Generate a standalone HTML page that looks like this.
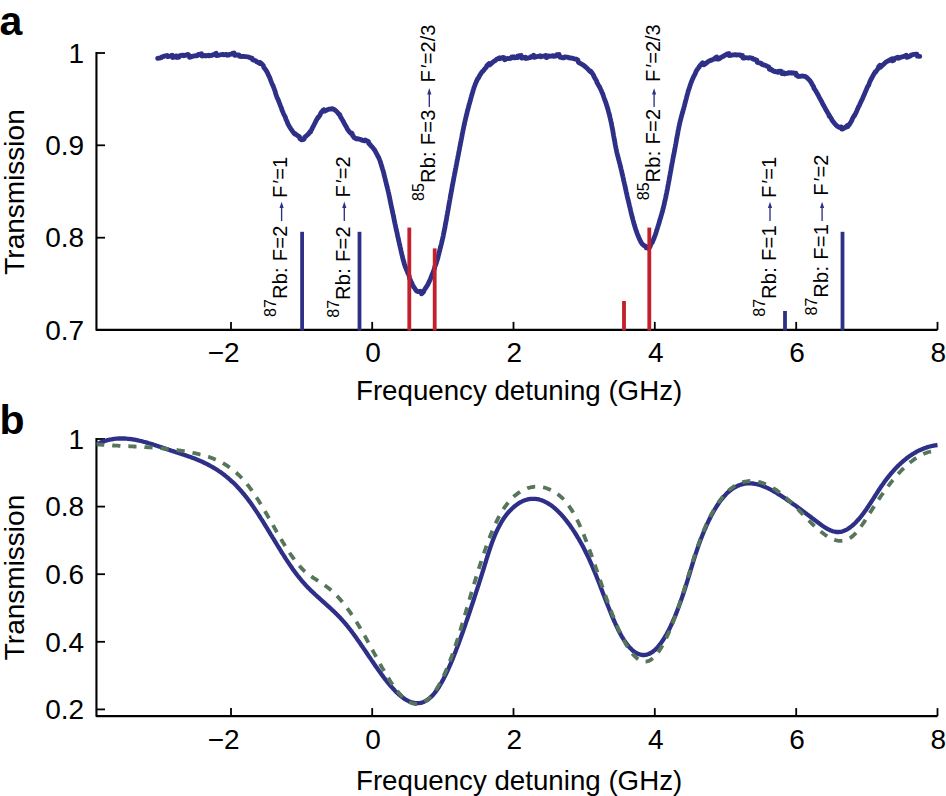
<!DOCTYPE html>
<html><head><meta charset="utf-8"><style>html,body{margin:0;padding:0;background:#fff;overflow:hidden;}svg{display:block;}</style></head>
<body>
<svg width="946" height="796" viewBox="0 0 946 796" font-family="'Liberation Sans', sans-serif" font-size="28" fill="#000">
<rect width="946" height="796" fill="#fff"/>
<path d="M96.45,52 L96.45,329.9 L937.5,329.9" fill="none" stroke="#000" stroke-width="2.1" stroke-linejoin="round"/>
<path d="M937.5,329.9 L937.5,321.9" fill="none" stroke="#000" stroke-width="1.8"/>
<path d="M231.0,329.9 L231.0,321.9" stroke="#000" stroke-width="1.8"/>
<path d="M372.2,329.9 L372.2,321.9" stroke="#000" stroke-width="1.8"/>
<path d="M513.5,329.9 L513.5,321.9" stroke="#000" stroke-width="1.8"/>
<path d="M654.8,329.9 L654.8,321.9" stroke="#000" stroke-width="1.8"/>
<path d="M796.2,329.9 L796.2,321.9" stroke="#000" stroke-width="1.8"/>
<path d="M96.45,53 L105,53" stroke="#000" stroke-width="1.8"/>
<path d="M96.45,145.3 L105,145.3" stroke="#000" stroke-width="1.8"/>
<path d="M96.45,237.7 L105,237.7" stroke="#000" stroke-width="1.8"/>
<text x="84.2" y="62.7" text-anchor="end">1</text>
<text x="84.2" y="155.0" text-anchor="end">0.9</text>
<text x="84.2" y="247.4" text-anchor="end">0.8</text>
<text x="239.7" y="362.4" text-anchor="end">−2</text>
<text x="373.1" y="362.4" text-anchor="middle">0</text>
<text x="514.4" y="362.4" text-anchor="middle">2</text>
<text x="655.7" y="362.4" text-anchor="middle">4</text>
<text x="797.1" y="362.4" text-anchor="middle">6</text>
<text x="938.4" y="362.4" text-anchor="middle">8</text>
<text x="519.1" y="399.9" text-anchor="middle" font-size="27.7">Frequency detuning (GHz)</text>
<text transform="translate(23.9,192) rotate(-90)" text-anchor="middle">Transmission</text>
<text x="-0.5" y="35.0" font-weight="bold" font-size="41">a</text>
<text x="84.2" y="339.6" text-anchor="end">0.7</text>
<path d="M157.7,58.4 L158.0,58.3 L158.4,58.2 L158.7,58.2 L159.1,58.1 L159.4,58.1 L159.7,58.0 L160.1,57.9 L160.4,57.9 L160.8,57.8 L161.1,57.7 L161.4,57.7 L161.8,56.9 L162.1,56.9 L162.5,56.8 L162.8,56.7 L163.1,56.7 L163.5,56.6 L163.8,56.1 L164.2,56.1 L164.5,56.0 L164.8,55.9 L165.2,55.9 L165.5,55.8 L165.9,55.8 L166.2,55.7 L166.5,55.6 L166.9,55.6 L167.2,55.5 L167.6,56.6 L167.9,56.6 L168.2,56.5 L168.6,56.4 L168.9,56.4 L169.3,56.3 L169.6,56.2 L169.9,56.2 L170.3,56.1 L170.6,56.1 L171.0,56.0 L171.3,55.4 L171.6,55.4 L172.0,55.3 L172.3,55.2 L172.7,57.5 L173.0,57.4 L173.3,57.4 L173.7,57.3 L174.0,57.2 L174.4,57.2 L174.7,56.2 L175.0,56.2 L175.4,56.1 L175.7,56.0 L176.1,56.0 L176.4,55.9 L176.7,55.9 L177.1,57.5 L177.4,57.4 L177.8,57.4 L178.1,57.3 L178.4,57.2 L178.8,57.2 L179.1,57.1 L179.5,55.7 L179.8,55.6 L180.1,55.6 L180.5,55.5 L180.8,55.5 L181.2,55.4 L181.5,55.3 L181.8,55.3 L182.2,55.2 L182.5,55.2 L182.9,55.1 L183.2,55.1 L183.5,55.7 L183.9,55.6 L184.2,55.6 L184.6,55.5 L184.9,55.5 L185.2,55.4 L185.6,55.3 L185.9,54.8 L186.3,54.8 L186.6,54.7 L186.9,54.7 L187.3,54.6 L187.6,54.5 L188.0,54.5 L188.3,55.2 L188.6,55.1 L189.0,55.1 L189.3,57.3 L189.7,57.2 L190.0,57.2 L190.3,57.1 L190.7,57.0 L191.0,57.0 L191.4,56.9 L191.7,56.5 L192.0,56.4 L192.4,56.4 L192.7,56.3 L193.1,56.2 L193.4,56.1 L193.7,56.1 L194.1,56.0 L194.4,55.9 L194.8,55.8 L195.1,55.8 L195.4,55.7 L195.8,55.6 L196.1,55.9 L196.5,55.8 L196.8,55.8 L197.1,55.7 L197.5,55.6 L197.8,55.5 L198.2,54.5 L198.5,54.4 L198.8,54.4 L199.2,54.3 L199.5,54.2 L199.9,54.2 L200.2,54.1 L200.5,54.0 L200.9,53.9 L201.2,53.9 L201.6,53.8 L201.9,56.0 L202.2,55.9 L202.6,55.9 L202.9,55.8 L203.3,55.7 L203.6,55.7 L203.9,55.6 L204.3,55.6 L204.6,55.5 L205.0,55.4 L205.3,55.4 L205.6,55.9 L206.0,55.8 L206.3,55.8 L206.7,55.7 L207.0,55.6 L207.3,55.6 L207.7,55.5 L208.0,55.4 L208.4,55.4 L208.7,55.3 L209.0,55.9 L209.4,55.8 L209.7,55.7 L210.1,55.7 L210.4,55.6 L210.7,55.6 L211.1,55.5 L211.4,55.4 L211.8,55.4 L212.1,55.3 L212.4,55.2 L212.8,54.8 L213.1,54.7 L213.5,54.6 L213.8,54.6 L214.1,54.5 L214.5,54.4 L214.8,54.4 L215.2,54.3 L215.5,53.5 L215.8,53.4 L216.2,53.3 L216.5,55.6 L216.9,55.5 L217.2,55.5 L217.5,55.4 L217.9,55.4 L218.2,55.3 L218.6,55.3 L218.9,55.2 L219.2,55.2 L219.6,55.1 L219.9,54.8 L220.3,54.8 L220.6,54.7 L220.9,54.7 L221.3,54.6 L221.6,54.6 L222.0,54.5 L222.3,54.5 L222.6,54.4 L223.0,54.3 L223.3,54.3 L223.7,54.9 L224.0,54.8 L224.3,54.7 L224.7,54.7 L225.0,54.6 L225.4,54.6 L225.7,54.5 L226.0,54.5 L226.4,54.4 L226.7,54.4 L227.1,55.3 L227.4,55.2 L227.7,55.2 L228.1,55.1 L228.4,55.1 L228.8,55.0 L229.1,55.0 L229.4,54.4 L229.8,54.4 L230.1,54.3 L230.5,54.3 L230.8,54.3 L231.1,54.2 L231.5,54.2 L231.8,54.1 L232.2,54.1 L232.5,53.2 L232.8,53.2 L233.2,53.1 L233.5,53.1 L233.9,53.1 L234.2,53.0 L234.5,55.3 L234.9,55.3 L235.2,55.3 L235.6,55.2 L235.9,54.9 L236.2,54.9 L236.6,54.9 L236.9,54.9 L237.3,54.9 L237.6,54.9 L237.9,54.8 L238.3,54.8 L238.6,54.8 L239.0,54.8 L239.3,56.4 L239.6,56.4 L240.0,56.4 L240.3,56.4 L240.7,56.4 L241.0,56.5 L241.3,56.5 L241.7,56.5 L242.0,56.5 L242.4,56.3 L242.7,56.4 L243.0,56.4 L243.4,56.4 L243.7,56.4 L244.1,56.5 L244.4,56.5 L244.7,56.5 L245.1,56.6 L245.4,56.6 L245.8,56.6 L246.1,56.6 L246.4,56.7 L246.8,56.7 L247.1,56.8 L247.5,56.8 L247.8,56.9 L248.1,57.0 L248.5,57.0 L248.8,57.1 L249.2,57.4 L249.5,57.5 L249.8,57.6 L250.2,57.7 L250.5,57.8 L250.9,57.9 L251.2,58.0 L251.5,58.1 L251.9,58.2 L252.2,58.3 L252.6,59.8 L252.9,59.9 L253.2,60.0 L253.6,60.1 L253.9,60.2 L254.3,60.3 L254.6,60.4 L254.9,60.5 L255.3,60.6 L255.6,60.8 L256.0,60.9 L256.3,61.6 L256.6,61.7 L257.0,61.9 L257.3,62.0 L257.7,62.2 L258.0,62.4 L258.3,62.6 L258.7,62.8 L259.0,63.0 L259.4,63.2 L259.7,63.4 L260.0,62.4 L260.4,62.7 L260.7,62.9 L261.1,63.2 L261.4,63.5 L261.7,63.9 L262.1,64.2 L262.4,64.6 L262.8,64.9 L263.1,65.3 L263.4,65.7 L263.8,67.4 L264.1,67.8 L264.5,68.2 L264.8,68.7 L265.1,69.1 L265.5,69.6 L265.8,70.1 L266.2,70.6 L266.5,71.2 L266.8,71.8 L267.2,72.3 L267.5,72.9 L267.9,73.9 L268.2,74.5 L268.5,75.2 L268.9,75.9 L269.2,76.6 L269.6,77.3 L269.9,78.1 L270.2,78.9 L270.6,80.1 L270.9,80.9 L271.3,81.7 L271.6,82.6 L271.9,83.4 L272.3,84.3 L272.6,85.1 L273.0,85.6 L273.3,86.5 L273.6,87.4 L274.0,88.3 L274.3,89.2 L274.7,90.1 L275.0,91.0 L275.3,92.0 L275.7,93.7 L276.0,94.6 L276.4,95.5 L276.7,96.5 L277.0,97.4 L277.4,98.3 L277.7,98.6 L278.1,99.5 L278.4,100.4 L278.7,101.3 L279.1,102.2 L279.4,103.1 L279.8,103.9 L280.1,104.8 L280.4,105.7 L280.8,106.5 L281.1,107.4 L281.5,108.2 L281.8,109.6 L282.1,110.4 L282.5,111.2 L282.8,112.0 L283.2,112.8 L283.5,113.6 L283.8,114.3 L284.2,114.9 L284.5,115.6 L284.9,116.3 L285.2,117.0 L285.5,117.7 L285.9,119.2 L286.2,119.9 L286.6,120.5 L286.9,121.2 L287.2,121.9 L287.6,123.2 L287.9,123.9 L288.3,124.5 L288.6,125.1 L288.9,125.7 L289.3,126.3 L289.6,126.9 L290.0,127.4 L290.3,128.0 L290.6,128.5 L291.0,129.1 L291.3,129.6 L291.7,130.1 L292.0,130.6 L292.3,131.1 L292.7,131.5 L293.0,132.0 L293.4,132.4 L293.7,132.8 L294.0,133.2 L294.4,133.6 L294.7,134.0 L295.1,133.5 L295.4,133.9 L295.7,134.2 L296.1,134.5 L296.4,134.8 L296.8,135.0 L297.1,135.3 L297.4,135.5 L297.8,135.8 L298.1,135.9 L298.5,136.1 L298.8,136.3 L299.1,136.4 L299.5,136.5 L299.8,138.7 L300.2,138.8 L300.5,138.9 L300.8,138.9 L301.2,139.0 L301.5,139.8 L301.9,139.8 L302.2,139.8 L302.5,139.7 L302.9,139.6 L303.2,139.5 L303.6,139.3 L303.9,139.2 L304.2,139.0 L304.6,137.3 L304.9,137.1 L305.3,136.8 L305.6,136.5 L305.9,136.3 L306.3,136.0 L306.6,135.6 L307.0,135.3 L307.3,134.9 L307.6,134.5 L308.0,134.1 L308.3,134.2 L308.7,133.8 L309.0,133.3 L309.3,132.8 L309.7,132.2 L310.0,131.7 L310.4,132.2 L310.7,131.6 L311.0,130.6 L311.4,130.0 L311.7,129.3 L312.1,128.7 L312.4,128.0 L312.7,127.4 L313.1,126.7 L313.4,126.1 L313.8,125.4 L314.1,124.7 L314.4,124.1 L314.8,123.4 L315.1,122.7 L315.5,122.0 L315.8,121.3 L316.1,120.7 L316.5,120.0 L316.8,119.4 L317.2,118.8 L317.5,118.1 L317.8,117.5 L318.2,117.9 L318.5,117.3 L318.9,116.8 L319.2,116.2 L319.5,115.7 L319.9,115.2 L320.2,114.7 L320.6,113.5 L320.9,113.0 L321.2,112.5 L321.6,112.1 L321.9,111.6 L322.3,111.2 L322.6,110.8 L322.9,110.4 L323.3,110.0 L323.6,110.1 L324.0,109.8 L324.3,111.2 L324.6,110.9 L325.0,110.7 L325.3,110.4 L325.7,110.7 L326.0,110.5 L326.3,110.3 L326.7,110.1 L327.0,109.9 L327.4,109.8 L327.7,109.6 L328.0,109.5 L328.4,109.4 L328.7,109.3 L329.1,109.2 L329.4,109.1 L329.7,109.1 L330.1,109.0 L330.4,109.0 L330.8,109.0 L331.1,109.0 L331.4,109.1 L331.8,109.1 L332.1,108.7 L332.5,108.8 L332.8,108.9 L333.1,109.0 L333.5,109.1 L333.8,109.3 L334.2,109.5 L334.5,109.7 L334.8,109.9 L335.2,110.2 L335.5,110.5 L335.9,110.8 L336.2,111.1 L336.5,111.4 L336.9,111.8 L337.2,112.1 L337.6,112.5 L337.9,112.9 L338.2,113.4 L338.6,113.8 L338.9,114.3 L339.3,114.8 L339.6,114.4 L339.9,114.9 L340.3,116.5 L340.6,117.1 L341.0,117.6 L341.3,118.1 L341.6,118.7 L342.0,119.3 L342.3,119.8 L342.7,120.4 L343.0,121.0 L343.3,121.6 L343.7,122.1 L344.0,123.1 L344.4,123.6 L344.7,124.2 L345.0,124.8 L345.4,125.4 L345.7,125.9 L346.1,126.5 L346.4,127.0 L346.7,127.6 L347.1,128.6 L347.4,129.2 L347.8,129.7 L348.1,130.1 L348.4,130.6 L348.8,131.0 L349.1,131.5 L349.5,131.9 L349.8,132.3 L350.1,132.6 L350.5,133.0 L350.8,133.3 L351.2,132.8 L351.5,133.0 L351.8,133.3 L352.2,133.5 L352.5,135.5 L352.9,135.8 L353.2,136.0 L353.5,136.3 L353.9,137.5 L354.2,137.7 L354.6,137.9 L354.9,138.1 L355.2,138.3 L355.6,138.4 L355.9,138.6 L356.3,138.7 L356.6,138.9 L356.9,139.0 L357.3,138.6 L357.6,138.7 L358.0,138.8 L358.3,138.9 L358.6,139.0 L359.0,139.1 L359.3,139.2 L359.7,139.3 L360.0,139.3 L360.3,139.4 L360.7,139.5 L361.0,139.6 L361.4,139.6 L361.7,140.1 L362.0,140.2 L362.4,140.3 L362.7,140.4 L363.1,140.5 L363.4,140.6 L363.7,140.6 L364.1,140.7 L364.4,140.8 L364.8,140.9 L365.1,140.0 L365.4,140.2 L365.8,140.3 L366.1,140.4 L366.5,140.6 L366.8,140.7 L367.1,140.9 L367.5,141.1 L367.8,141.3 L368.2,141.5 L368.5,141.6 L368.8,143.6 L369.2,143.8 L369.5,144.1 L369.9,144.3 L370.2,144.5 L370.5,145.5 L370.9,145.7 L371.2,146.0 L371.6,146.4 L371.9,146.7 L372.2,147.0 L372.6,147.4 L372.9,147.8 L373.3,148.3 L373.6,148.7 L373.9,149.2 L374.3,149.6 L374.6,150.1 L375.0,150.6 L375.3,151.2 L375.6,152.0 L376.0,152.5 L376.3,153.1 L376.7,153.8 L377.0,154.4 L377.3,155.1 L377.7,155.8 L378.0,156.5 L378.4,156.8 L378.7,157.6 L379.0,158.4 L379.4,159.2 L379.7,160.1 L380.1,161.0 L380.4,162.0 L380.7,163.0 L381.1,164.4 L381.4,165.4 L381.8,166.5 L382.1,167.6 L382.4,168.7 L382.8,169.8 L383.1,171.0 L383.5,172.2 L383.8,173.5 L384.1,175.0 L384.5,176.3 L384.8,177.6 L385.2,179.0 L385.5,180.4 L385.8,181.7 L386.2,183.1 L386.5,184.6 L386.9,186.0 L387.2,187.0 L387.5,188.5 L387.9,190.0 L388.2,191.5 L388.6,193.0 L388.9,194.5 L389.2,196.1 L389.6,197.6 L389.9,199.2 L390.3,201.3 L390.6,202.8 L390.9,204.4 L391.3,206.0 L391.6,207.6 L392.0,209.2 L392.3,210.8 L392.6,212.4 L393.0,214.0 L393.3,215.6 L393.7,217.2 L394.0,218.8 L394.3,220.7 L394.7,222.2 L395.0,223.8 L395.4,225.4 L395.7,227.0 L396.0,228.6 L396.4,230.2 L396.7,231.5 L397.1,233.1 L397.4,234.7 L397.7,236.3 L398.1,237.8 L398.4,239.4 L398.8,240.9 L399.1,242.5 L399.4,243.7 L399.8,245.3 L400.1,246.8 L400.5,248.3 L400.8,249.8 L401.1,251.3 L401.5,252.7 L401.8,254.3 L402.2,255.7 L402.5,257.1 L402.8,258.5 L403.2,259.8 L403.5,261.0 L403.9,262.2 L404.2,263.4 L404.5,264.5 L404.9,265.6 L405.2,266.6 L405.6,267.6 L405.9,268.2 L406.2,269.1 L406.6,270.0 L406.9,270.8 L407.3,271.6 L407.6,272.4 L407.9,273.2 L408.3,273.9 L408.6,274.6 L409.0,275.4 L409.3,276.8 L409.6,278.5 L410.0,279.2 L410.3,279.9 L410.7,280.6 L411.0,281.4 L411.3,282.1 L411.7,282.8 L412.0,283.6 L412.4,284.3 L412.7,285.1 L413.0,285.8 L413.4,286.5 L413.7,287.2 L414.1,287.2 L414.4,287.8 L414.7,288.4 L415.1,289.0 L415.4,289.5 L415.8,290.0 L416.1,290.4 L416.4,290.8 L416.8,291.1 L417.1,291.2 L417.5,291.4 L417.8,291.5 L418.1,291.6 L418.5,291.6 L418.8,291.6 L419.2,291.6 L419.5,291.5 L419.8,291.4 L420.2,291.3 L420.5,292.2 L420.9,292.1 L421.2,291.9 L421.5,293.8 L421.9,293.5 L422.2,293.2 L422.6,292.9 L422.9,292.6 L423.2,292.2 L423.6,291.8 L423.9,290.4 L424.3,290.0 L424.6,289.6 L424.9,289.1 L425.3,288.6 L425.6,288.1 L426.0,287.6 L426.3,287.1 L426.6,286.5 L427.0,285.9 L427.3,285.5 L427.7,284.9 L428.0,284.2 L428.3,283.5 L428.7,282.8 L429.0,282.1 L429.4,281.3 L429.7,280.5 L430.0,280.0 L430.4,279.1 L430.7,278.2 L431.1,277.3 L431.4,276.4 L431.7,275.5 L432.1,274.6 L432.4,273.6 L432.8,273.2 L433.1,272.2 L433.4,271.3 L433.8,270.4 L434.1,269.4 L434.5,268.5 L434.8,266.8 L435.1,265.9 L435.5,265.4 L435.8,264.4 L436.2,263.4 L436.5,262.3 L436.8,261.2 L437.2,260.0 L437.5,259.0 L437.9,257.7 L438.2,256.4 L438.5,255.0 L438.9,253.7 L439.2,252.3 L439.6,251.0 L439.9,249.6 L440.2,248.4 L440.6,247.0 L440.9,245.7 L441.3,244.3 L441.6,242.9 L441.9,241.5 L442.3,240.1 L442.6,238.6 L443.0,237.1 L443.3,235.6 L443.6,233.8 L444.0,232.1 L444.3,230.5 L444.7,228.8 L445.0,227.0 L445.3,225.2 L445.7,223.3 L446.0,221.4 L446.4,219.5 L446.7,217.6 L447.0,215.7 L447.4,213.7 L447.7,211.8 L448.1,209.9 L448.4,207.9 L448.7,206.0 L449.1,204.0 L449.4,202.1 L449.8,200.1 L450.1,198.4 L450.4,196.5 L450.8,194.6 L451.1,192.7 L451.5,190.8 L451.8,189.0 L452.1,187.1 L452.5,185.3 L452.8,183.4 L453.2,181.6 L453.5,179.8 L453.8,178.0 L454.2,176.2 L454.5,174.4 L454.9,172.6 L455.2,171.0 L455.5,169.2 L455.9,167.4 L456.2,165.7 L456.6,163.9 L456.9,162.2 L457.2,160.4 L457.6,158.7 L457.9,156.9 L458.3,155.2 L458.6,153.4 L458.9,151.7 L459.3,149.9 L459.6,148.0 L460.0,146.3 L460.3,144.5 L460.6,142.8 L461.0,141.0 L461.3,139.3 L461.7,137.5 L462.0,135.8 L462.3,133.9 L462.7,132.2 L463.0,130.5 L463.4,128.8 L463.7,127.1 L464.0,125.7 L464.4,124.1 L464.7,122.5 L465.1,120.9 L465.4,119.6 L465.7,118.1 L466.1,116.7 L466.4,115.3 L466.8,113.9 L467.1,112.5 L467.4,111.1 L467.8,109.8 L468.1,108.5 L468.5,107.2 L468.8,105.9 L469.1,104.6 L469.5,103.4 L469.8,102.1 L470.2,101.0 L470.5,99.7 L470.8,98.5 L471.2,97.2 L471.5,96.0 L471.9,94.8 L472.2,93.7 L472.5,92.6 L472.9,91.5 L473.2,90.1 L473.6,89.0 L473.9,88.0 L474.2,87.0 L474.6,86.1 L474.9,85.2 L475.3,84.3 L475.6,83.4 L475.9,82.7 L476.3,81.8 L476.6,81.0 L477.0,80.3 L477.3,79.5 L477.6,78.8 L478.0,78.9 L478.3,78.2 L478.7,77.6 L479.0,76.9 L479.3,76.2 L479.7,75.6 L480.0,75.0 L480.4,74.4 L480.7,73.9 L481.0,73.4 L481.4,72.8 L481.7,72.3 L482.1,71.8 L482.4,71.4 L482.7,71.5 L483.1,71.1 L483.4,70.6 L483.8,70.2 L484.1,69.7 L484.4,69.3 L484.8,68.9 L485.1,68.5 L485.5,68.1 L485.8,67.7 L486.1,67.4 L486.5,67.0 L486.8,65.8 L487.2,65.4 L487.5,65.1 L487.8,64.7 L488.2,64.4 L488.5,64.0 L488.9,63.9 L489.2,63.5 L489.5,65.0 L489.9,64.8 L490.2,64.5 L490.6,64.2 L490.9,63.9 L491.2,63.7 L491.6,63.4 L491.9,63.1 L492.3,62.5 L492.6,62.3 L492.9,62.1 L493.3,61.8 L493.6,61.6 L494.0,61.4 L494.3,61.1 L494.6,60.9 L495.0,60.7 L495.3,60.5 L495.7,60.3 L496.0,59.7 L496.3,59.5 L496.7,59.3 L497.0,59.1 L497.4,59.0 L497.7,58.8 L498.0,58.6 L498.4,58.4 L498.7,58.3 L499.1,58.1 L499.4,57.9 L499.7,58.7 L500.1,58.6 L500.4,58.5 L500.8,58.3 L501.1,58.2 L501.4,58.0 L501.8,57.9 L502.1,57.8 L502.5,57.7 L502.8,57.5 L503.1,57.4 L503.5,57.8 L503.8,57.7 L504.2,57.6 L504.5,59.8 L504.8,59.7 L505.2,59.6 L505.5,58.9 L505.9,58.8 L506.2,58.8 L506.5,58.7 L506.9,58.6 L507.2,58.5 L507.6,58.5 L507.9,58.4 L508.2,58.7 L508.6,58.7 L508.9,58.6 L509.3,58.5 L509.6,58.5 L509.9,58.4 L510.3,58.4 L510.6,58.3 L511.0,58.3 L511.3,58.2 L511.6,57.0 L512.0,57.0 L512.3,56.9 L512.7,56.9 L513.0,56.8 L513.3,56.8 L513.7,56.8 L514.0,56.7 L514.4,57.9 L514.7,57.9 L515.0,57.8 L515.4,57.8 L515.7,57.7 L516.1,57.7 L516.4,57.7 L516.7,57.6 L517.1,57.6 L517.4,57.6 L517.8,55.9 L518.1,55.9 L518.4,55.8 L518.8,55.8 L519.1,55.7 L519.5,55.7 L519.8,55.7 L520.1,55.6 L520.5,55.6 L520.8,55.5 L521.2,55.5 L521.5,58.1 L521.8,58.1 L522.2,58.0 L522.5,57.9 L522.9,57.9 L523.2,57.8 L523.5,57.8 L523.9,57.5 L524.2,57.4 L524.6,57.4 L524.9,57.3 L525.2,57.2 L525.6,57.2 L525.9,58.5 L526.3,58.4 L526.6,58.3 L526.9,58.3 L527.3,58.2 L527.6,58.1 L528.0,58.0 L528.3,58.0 L528.6,57.9 L529.0,57.8 L529.3,57.7 L529.7,57.6 L530.0,57.6 L530.3,57.5 L530.7,57.4 L531.0,56.7 L531.4,56.6 L531.7,56.6 L532.0,56.5 L532.4,56.4 L532.7,56.3 L533.1,56.2 L533.4,55.3 L533.7,55.2 L534.1,57.4 L534.4,57.3 L534.8,57.2 L535.1,57.1 L535.4,57.0 L535.8,56.9 L536.1,56.8 L536.5,56.7 L536.8,56.7 L537.1,56.6 L537.5,56.5 L537.8,56.4 L538.2,56.3 L538.5,56.3 L538.8,56.2 L539.2,56.1 L539.5,56.0 L539.9,55.9 L540.2,55.8 L540.5,56.9 L540.9,56.8 L541.2,56.7 L541.6,56.6 L541.9,56.5 L542.2,56.5 L542.6,56.4 L542.9,56.3 L543.3,56.1 L543.6,56.0 L543.9,56.0 L544.3,55.9 L544.6,55.8 L545.0,55.7 L545.3,55.6 L545.6,55.5 L546.0,55.4 L546.3,57.7 L546.7,57.6 L547.0,56.4 L547.3,56.3 L547.7,56.2 L548.0,56.1 L548.4,56.1 L548.7,56.0 L549.0,55.9 L549.4,56.4 L549.7,56.3 L550.1,56.2 L550.4,56.2 L550.7,56.1 L551.1,56.0 L551.4,56.0 L551.8,55.9 L552.1,55.8 L552.4,55.8 L552.8,55.7 L553.1,56.4 L553.5,56.4 L553.8,56.3 L554.1,56.3 L554.5,56.2 L554.8,56.2 L555.2,56.1 L555.5,56.1 L555.8,56.0 L556.2,56.0 L556.5,54.8 L556.9,54.7 L557.2,54.7 L557.5,54.6 L557.9,54.6 L558.2,54.6 L558.6,54.5 L558.9,54.5 L559.2,54.5 L559.6,56.7 L559.9,57.4 L560.3,57.4 L560.6,57.4 L560.9,57.4 L561.3,57.4 L561.6,57.4 L562.0,57.4 L562.3,57.8 L562.6,57.8 L563.0,57.8 L563.3,57.8 L563.7,57.8 L564.0,57.8 L564.3,57.8 L564.7,57.0 L565.0,57.0 L565.4,57.0 L565.7,57.0 L566.0,57.0 L566.4,57.1 L566.7,57.1 L567.1,57.1 L567.4,57.1 L567.7,57.2 L568.1,57.2 L568.4,57.8 L568.8,57.8 L569.1,57.8 L569.4,57.9 L569.8,57.9 L570.1,58.0 L570.5,57.9 L570.8,57.9 L571.1,58.0 L571.5,58.0 L571.8,58.1 L572.2,58.2 L572.5,58.2 L572.8,58.3 L573.2,58.5 L573.5,58.6 L573.9,58.7 L574.2,58.8 L574.5,58.9 L574.9,59.0 L575.2,59.1 L575.6,59.2 L575.9,59.3 L576.2,59.2 L576.6,59.3 L576.9,59.4 L577.3,59.6 L577.6,59.7 L577.9,59.9 L578.3,62.0 L578.6,62.2 L579.0,62.8 L579.3,62.9 L579.6,63.1 L580.0,63.2 L580.3,63.4 L580.7,63.6 L581.0,63.8 L581.3,64.0 L581.7,64.1 L582.0,64.4 L582.4,64.6 L582.7,64.8 L583.0,65.0 L583.4,65.3 L583.7,65.5 L584.1,65.7 L584.4,66.0 L584.7,66.3 L585.1,66.5 L585.4,66.8 L585.8,67.1 L586.1,67.4 L586.4,67.7 L586.8,68.0 L587.1,68.4 L587.5,68.7 L587.8,69.0 L588.1,69.4 L588.5,69.7 L588.8,70.1 L589.2,70.5 L589.5,70.8 L589.8,71.2 L590.2,71.6 L590.5,70.9 L590.9,71.4 L591.2,71.8 L591.5,72.3 L591.9,72.7 L592.2,73.2 L592.6,73.7 L592.9,74.2 L593.2,74.7 L593.6,75.2 L593.9,76.6 L594.3,77.1 L594.6,77.7 L594.9,78.2 L595.3,78.8 L595.6,79.3 L596.0,79.9 L596.3,80.5 L596.6,81.1 L597.0,82.7 L597.3,83.0 L597.7,83.6 L598.0,84.3 L598.3,84.9 L598.7,85.6 L599.0,86.2 L599.4,86.5 L599.7,87.2 L600.0,87.9 L600.4,88.6 L600.7,89.4 L601.1,90.1 L601.4,90.9 L601.7,91.7 L602.1,92.5 L602.4,93.3 L602.8,94.1 L603.1,95.0 L603.4,95.8 L603.8,97.2 L604.1,98.1 L604.5,99.0 L604.8,99.9 L605.1,100.8 L605.5,101.7 L605.8,102.7 L606.2,103.7 L606.5,104.7 L606.8,105.7 L607.2,107.0 L607.5,108.1 L607.9,109.2 L608.2,110.4 L608.5,111.6 L608.9,112.9 L609.2,114.2 L609.6,115.5 L609.9,116.9 L610.2,118.3 L610.6,119.8 L610.9,121.3 L611.3,122.9 L611.6,124.5 L611.9,126.2 L612.3,128.0 L612.6,129.8 L613.0,131.8 L613.3,133.8 L613.6,135.7 L614.0,137.6 L614.3,139.6 L614.7,141.3 L615.0,143.2 L615.3,145.0 L615.7,146.8 L616.0,148.5 L616.4,150.1 L616.7,151.7 L617.0,153.1 L617.4,154.5 L617.7,155.9 L618.1,157.2 L618.4,158.5 L618.7,159.7 L619.1,161.0 L619.4,162.3 L619.8,163.7 L620.1,165.0 L620.4,166.4 L620.8,167.8 L621.1,169.3 L621.5,170.7 L621.8,172.1 L622.1,173.6 L622.5,175.0 L622.8,176.5 L623.2,178.0 L623.5,179.5 L623.8,181.0 L624.2,182.5 L624.5,184.0 L624.9,185.5 L625.2,187.0 L625.5,188.5 L625.9,190.3 L626.2,191.8 L626.6,193.3 L626.9,194.8 L627.2,196.3 L627.6,197.8 L627.9,199.2 L628.3,200.5 L628.6,202.0 L628.9,203.4 L629.3,204.9 L629.6,206.3 L630.0,207.7 L630.3,209.1 L630.6,210.5 L631.0,212.1 L631.3,213.6 L631.7,214.9 L632.0,216.2 L632.3,217.6 L632.7,218.8 L633.0,220.1 L633.4,221.4 L633.7,222.6 L634.0,223.8 L634.4,224.9 L634.7,226.1 L635.1,227.2 L635.4,228.3 L635.7,229.4 L636.1,230.4 L636.4,231.4 L636.8,232.4 L637.1,233.4 L637.4,234.1 L637.8,235.0 L638.1,235.9 L638.5,236.7 L638.8,237.5 L639.1,238.3 L639.5,239.1 L639.8,239.8 L640.2,240.5 L640.5,241.3 L640.8,241.9 L641.2,242.5 L641.5,243.0 L641.9,243.5 L642.2,244.0 L642.5,244.4 L642.9,244.6 L643.2,244.9 L643.6,245.2 L643.9,245.5 L644.2,245.7 L644.6,245.9 L644.9,246.0 L645.3,246.1 L645.6,246.1 L645.9,246.2 L646.3,247.9 L646.6,247.8 L647.0,247.8 L647.3,247.7 L647.6,247.5 L648.0,247.4 L648.3,247.2 L648.7,248.7 L649.0,248.3 L649.3,247.8 L649.7,247.3 L650.0,246.8 L650.4,245.3 L650.7,244.8 L651.0,244.2 L651.4,243.6 L651.7,242.9 L652.1,242.2 L652.4,242.1 L652.7,241.3 L653.1,240.5 L653.4,239.7 L653.8,238.9 L654.1,238.0 L654.4,237.1 L654.8,236.2 L655.1,235.3 L655.5,234.3 L655.8,233.3 L656.1,232.4 L656.5,231.0 L656.8,229.9 L657.2,228.9 L657.5,227.9 L657.8,226.8 L658.2,225.7 L658.5,224.6 L658.9,223.6 L659.2,222.5 L659.5,221.3 L659.9,220.1 L660.2,218.9 L660.6,217.8 L660.9,216.6 L661.2,215.4 L661.6,214.2 L661.9,213.0 L662.3,212.0 L662.6,210.7 L662.9,209.4 L663.3,208.0 L663.6,206.6 L664.0,205.2 L664.3,203.7 L664.6,202.2 L665.0,200.7 L665.3,199.1 L665.7,197.5 L666.0,196.1 L666.3,194.4 L666.7,192.7 L667.0,190.9 L667.4,189.2 L667.7,187.4 L668.0,185.6 L668.4,183.7 L668.7,181.9 L669.1,180.0 L669.4,178.2 L669.7,176.3 L670.1,174.4 L670.4,172.5 L670.8,170.7 L671.1,168.8 L671.4,166.9 L671.8,165.1 L672.1,163.2 L672.5,161.4 L672.8,159.7 L673.1,157.9 L673.5,156.1 L673.8,154.4 L674.2,152.6 L674.5,150.8 L674.8,149.0 L675.2,147.2 L675.5,145.4 L675.9,143.4 L676.2,141.6 L676.5,139.7 L676.9,137.8 L677.2,135.9 L677.6,134.0 L677.9,132.2 L678.2,130.4 L678.6,128.7 L678.9,127.0 L679.3,125.4 L679.6,123.9 L679.9,122.4 L680.3,121.0 L680.6,119.6 L681.0,118.3 L681.3,117.0 L681.6,115.8 L682.0,114.5 L682.3,113.3 L682.7,112.1 L683.0,110.9 L683.3,109.7 L683.7,108.4 L684.0,107.1 L684.4,105.9 L684.7,104.6 L685.0,103.3 L685.4,102.0 L685.7,100.7 L686.1,99.3 L686.4,98.1 L686.7,96.8 L687.1,95.5 L687.4,94.2 L687.8,92.9 L688.1,91.6 L688.4,90.4 L688.8,89.6 L689.1,88.6 L689.5,87.5 L689.8,86.4 L690.1,85.4 L690.5,84.4 L690.8,83.4 L691.2,82.5 L691.5,81.7 L691.8,80.8 L692.2,80.0 L692.5,79.2 L692.9,78.4 L693.2,77.6 L693.5,76.9 L693.9,76.2 L694.2,75.5 L694.6,74.9 L694.9,74.3 L695.2,73.6 L695.6,73.1 L695.9,71.7 L696.3,71.1 L696.6,70.6 L696.9,70.0 L697.3,69.5 L697.6,69.0 L698.0,68.5 L698.3,68.1 L698.6,67.6 L699.0,67.2 L699.3,66.5 L699.7,66.1 L700.0,65.7 L700.3,65.3 L700.7,64.9 L701.0,64.5 L701.4,64.2 L701.7,63.8 L702.0,63.5 L702.4,63.2 L702.7,62.8 L703.1,63.6 L703.4,63.3 L703.7,64.9 L704.1,64.7 L704.4,64.4 L704.8,64.2 L705.1,63.9 L705.4,63.7 L705.8,63.5 L706.1,63.2 L706.5,63.0 L706.8,62.8 L707.1,62.6 L707.5,62.0 L707.8,61.8 L708.2,61.6 L708.5,61.4 L708.8,61.2 L709.2,61.0 L709.5,60.8 L709.9,60.7 L710.2,60.5 L710.5,60.3 L710.9,60.6 L711.2,60.4 L711.6,60.2 L711.9,60.0 L712.2,59.9 L712.6,59.7 L712.9,59.5 L713.3,59.3 L713.6,59.2 L713.9,59.0 L714.3,58.8 L714.6,58.7 L715.0,57.9 L715.3,57.7 L715.6,57.5 L716.0,57.4 L716.3,57.2 L716.7,57.0 L717.0,59.1 L717.3,58.9 L717.7,58.7 L718.0,58.6 L718.4,59.1 L718.7,59.0 L719.0,58.8 L719.4,58.6 L719.7,58.5 L720.1,58.3 L720.4,57.6 L720.7,57.5 L721.1,57.3 L721.4,57.2 L721.8,57.0 L722.1,56.9 L722.4,56.7 L722.8,56.6 L723.1,56.4 L723.5,56.3 L723.8,56.2 L724.1,55.5 L724.5,55.4 L724.8,55.2 L725.2,55.1 L725.5,55.0 L725.8,54.9 L726.2,54.7 L726.5,54.6 L726.9,54.1 L727.2,54.0 L727.5,53.9 L727.9,53.8 L728.2,53.7 L728.6,53.6 L728.9,53.5 L729.2,55.7 L729.6,55.6 L729.9,55.5 L730.3,55.4 L730.6,55.4 L730.9,55.3 L731.3,55.2 L731.6,55.1 L732.0,55.1 L732.3,55.0 L732.6,54.9 L733.0,55.0 L733.3,54.9 L733.7,54.9 L734.0,54.8 L734.3,54.8 L734.7,54.7 L735.0,54.7 L735.4,54.6 L735.7,54.6 L736.0,54.6 L736.4,55.0 L736.7,55.0 L737.1,55.0 L737.4,54.9 L737.7,54.9 L738.1,54.9 L738.4,54.9 L738.8,54.9 L739.1,54.8 L739.4,54.8 L739.8,54.8 L740.1,54.8 L740.5,55.5 L740.8,55.5 L741.1,55.5 L741.5,55.5 L741.8,55.5 L742.2,55.5 L742.5,55.5 L742.8,58.0 L743.2,58.0 L743.5,58.0 L743.9,58.0 L744.2,58.1 L744.5,58.1 L744.9,57.5 L745.2,57.6 L745.6,57.6 L745.9,57.6 L746.2,57.7 L746.6,57.7 L746.9,57.8 L747.3,57.8 L747.6,57.9 L747.9,57.9 L748.3,58.0 L748.6,58.0 L749.0,57.6 L749.3,57.6 L749.6,57.7 L750.0,57.8 L750.3,57.8 L750.7,57.9 L751.0,58.0 L751.3,58.0 L751.7,58.1 L752.0,58.2 L752.4,58.3 L752.7,58.4 L753.0,59.1 L753.4,59.2 L753.7,59.2 L754.1,59.3 L754.4,59.4 L754.7,59.5 L755.1,59.6 L755.4,59.7 L755.8,59.8 L756.1,59.9 L756.4,60.0 L756.8,60.1 L757.1,62.3 L757.5,62.4 L757.8,62.5 L758.1,62.6 L758.5,62.7 L758.8,62.8 L759.2,62.7 L759.5,62.8 L759.8,62.9 L760.2,63.0 L760.5,63.1 L760.9,63.2 L761.2,63.3 L761.5,64.2 L761.9,64.4 L762.2,64.5 L762.6,64.6 L762.9,64.7 L763.2,64.8 L763.6,65.0 L763.9,65.1 L764.3,64.9 L764.6,65.1 L764.9,65.2 L765.3,65.3 L765.6,65.5 L766.0,65.6 L766.3,65.7 L766.6,66.1 L767.0,66.2 L767.3,66.3 L767.7,66.5 L768.0,66.6 L768.3,66.7 L768.7,66.9 L769.0,67.0 L769.4,69.2 L769.7,69.3 L770.0,69.5 L770.4,69.1 L770.7,69.2 L771.1,69.3 L771.4,69.5 L771.7,69.6 L772.1,69.8 L772.4,70.6 L772.8,70.7 L773.1,70.9 L773.4,71.0 L773.8,71.2 L774.1,71.3 L774.5,71.5 L774.8,71.2 L775.1,71.3 L775.5,71.5 L775.8,71.6 L776.2,71.7 L776.5,71.9 L776.8,72.0 L777.2,72.1 L777.5,72.2 L777.9,72.3 L778.2,72.4 L778.5,71.2 L778.9,71.2 L779.2,71.3 L779.6,71.3 L779.9,71.3 L780.2,71.3 L780.6,71.2 L780.9,71.2 L781.3,71.6 L781.6,71.5 L781.9,73.7 L782.3,73.6 L782.6,73.5 L783.0,73.4 L783.3,73.3 L783.6,73.2 L784.0,73.1 L784.3,73.0 L784.7,73.9 L785.0,73.7 L785.3,73.7 L785.7,73.6 L786.0,73.5 L786.4,73.4 L786.7,73.4 L787.0,73.3 L787.4,73.3 L787.7,73.3 L788.1,73.3 L788.4,73.3 L788.7,72.6 L789.1,72.7 L789.4,72.7 L789.8,72.8 L790.1,72.8 L790.4,72.9 L790.8,73.0 L791.1,73.1 L791.5,73.1 L791.8,72.7 L792.1,72.8 L792.5,72.9 L792.8,72.9 L793.2,73.0 L793.5,73.1 L793.8,73.0 L794.2,73.1 L794.5,73.1 L794.9,73.1 L795.2,73.1 L795.5,73.1 L795.9,73.1 L796.2,75.4 L796.6,75.4 L796.9,75.3 L797.2,75.3 L797.6,75.3 L797.9,76.5 L798.3,76.5 L798.6,76.4 L798.9,76.4 L799.3,76.4 L799.6,76.3 L800.0,76.3 L800.3,76.3 L800.6,76.3 L801.0,76.2 L801.3,76.2 L801.7,76.2 L802.0,76.0 L802.3,76.0 L802.7,76.0 L803.0,76.1 L803.4,76.1 L803.7,76.2 L804.0,76.3 L804.4,76.4 L804.7,76.3 L805.1,76.4 L805.4,76.6 L805.7,76.8 L806.1,77.0 L806.4,77.3 L806.8,77.5 L807.1,77.8 L807.4,78.2 L807.8,78.5 L808.1,78.9 L808.5,79.2 L808.8,79.6 L809.1,79.7 L809.5,80.1 L809.8,80.6 L810.2,81.1 L810.5,81.5 L810.8,82.0 L811.2,82.5 L811.5,83.0 L811.9,84.0 L812.2,84.5 L812.5,85.1 L812.9,85.6 L813.2,86.1 L813.6,86.7 L813.9,88.3 L814.2,88.8 L814.6,89.0 L814.9,89.5 L815.3,90.1 L815.6,90.7 L815.9,91.3 L816.3,91.8 L816.6,92.4 L817.0,93.0 L817.3,93.6 L817.6,94.2 L818.0,94.8 L818.3,95.4 L818.7,96.2 L819.0,96.8 L819.3,97.4 L819.7,98.1 L820.0,98.7 L820.4,99.3 L820.7,99.9 L821.0,100.5 L821.4,101.1 L821.7,101.7 L822.1,102.4 L822.4,103.3 L822.7,103.9 L823.1,104.5 L823.4,105.1 L823.8,105.7 L824.1,106.3 L824.4,106.9 L824.8,107.6 L825.1,108.2 L825.5,108.8 L825.8,109.5 L826.1,110.1 L826.5,110.7 L826.8,111.2 L827.2,111.8 L827.5,112.4 L827.8,113.0 L828.2,113.6 L828.5,114.1 L828.9,114.7 L829.2,116.2 L829.5,115.8 L829.9,116.3 L830.2,116.9 L830.6,117.4 L830.9,117.9 L831.2,118.4 L831.6,118.9 L831.9,120.0 L832.3,120.5 L832.6,120.9 L832.9,121.4 L833.3,121.8 L833.6,122.3 L834.0,122.7 L834.3,123.1 L834.6,123.5 L835.0,123.9 L835.3,124.2 L835.7,124.6 L836.0,124.9 L836.3,125.4 L836.7,125.7 L837.0,126.0 L837.4,126.3 L837.7,126.5 L838.0,126.7 L838.4,126.9 L838.7,127.1 L839.1,127.2 L839.4,127.4 L839.7,127.5 L840.1,127.6 L840.4,127.6 L840.8,126.8 L841.1,126.8 L841.4,126.8 L841.8,129.1 L842.1,129.1 L842.5,129.0 L842.8,129.0 L843.1,128.9 L843.5,128.5 L843.8,128.3 L844.2,128.1 L844.5,127.9 L844.8,127.7 L845.2,127.5 L845.5,127.2 L845.9,126.9 L846.2,126.6 L846.5,126.3 L846.9,126.0 L847.2,125.6 L847.6,126.8 L847.9,126.4 L848.2,126.0 L848.6,125.6 L848.9,125.1 L849.3,124.6 L849.6,124.2 L849.9,123.7 L850.3,122.9 L850.6,122.4 L851.0,121.9 L851.3,121.3 L851.6,120.8 L852.0,120.2 L852.3,118.9 L852.7,118.3 L853.0,117.7 L853.3,117.0 L853.7,116.4 L854.0,115.8 L854.4,116.0 L854.7,115.3 L855.0,114.6 L855.4,113.9 L855.7,113.2 L856.1,112.5 L856.4,111.8 L856.7,111.1 L857.1,110.1 L857.4,109.4 L857.8,108.6 L858.1,107.9 L858.4,107.1 L858.8,106.3 L859.1,106.0 L859.5,105.2 L859.8,104.4 L860.1,103.6 L860.5,102.8 L860.8,102.1 L861.2,101.3 L861.5,100.5 L861.8,100.2 L862.2,99.4 L862.5,98.6 L862.9,97.8 L863.2,97.0 L863.5,96.2 L863.9,95.4 L864.2,94.6 L864.6,93.8 L864.9,93.0 L865.2,92.2 L865.6,91.4 L865.9,90.6 L866.3,89.8 L866.6,89.0 L866.9,88.2 L867.3,87.4 L867.6,86.7 L868.0,85.9 L868.3,85.9 L868.6,85.2 L869.0,84.4 L869.3,82.9 L869.7,82.2 L870.0,81.4 L870.3,80.7 L870.7,80.0 L871.0,79.3 L871.4,78.7 L871.7,78.2 L872.0,77.5 L872.4,76.9 L872.7,76.2 L873.1,75.6 L873.4,75.0 L873.7,74.4 L874.1,73.8 L874.4,73.2 L874.8,72.6 L875.1,72.1 L875.4,72.4 L875.8,71.8 L876.1,71.3 L876.5,70.8 L876.8,70.3 L877.1,69.9 L877.5,69.4 L877.8,68.9 L878.2,68.5 L878.5,66.9 L878.8,66.5 L879.2,66.1 L879.5,65.7 L879.9,65.2 L880.2,66.5 L880.5,67.2 L880.9,66.8 L881.2,66.5 L881.6,66.1 L881.9,65.8 L882.2,65.5 L882.6,65.2 L882.9,64.9 L883.3,64.6 L883.6,64.3 L883.9,64.0 L884.3,63.7 L884.6,63.5 L885.0,62.9 L885.3,62.6 L885.6,62.4 L886.0,62.1 L886.3,61.9 L886.7,61.7 L887.0,61.4 L887.3,61.4 L887.7,61.2 L888.0,61.0 L888.4,60.8 L888.7,60.5 L889.0,60.3 L889.4,60.1 L889.7,59.9 L890.1,59.8 L890.4,59.6 L890.7,59.4 L891.1,59.2 L891.4,59.0 L891.8,58.8 L892.1,60.9 L892.4,60.7 L892.8,60.6 L893.1,60.5 L893.5,60.3 L893.8,60.2 L894.1,58.7 L894.5,58.6 L894.8,58.5 L895.2,58.3 L895.5,58.2 L895.8,58.1 L896.2,57.9 L896.5,57.8 L896.9,57.7 L897.2,57.5 L897.5,57.4 L897.9,57.3 L898.2,58.3 L898.6,58.2 L898.9,58.0 L899.2,57.9 L899.6,57.8 L899.9,57.6 L900.3,57.5 L900.6,57.3 L900.9,57.2 L901.3,57.1 L901.6,57.0 L902.0,56.8 L902.3,56.9 L902.6,56.8 L903.0,56.6 L903.3,56.5 L903.7,56.4 L904.0,56.3 L904.3,56.1 L904.7,56.0 L905.0,55.9 L905.4,55.8 L905.7,55.5 L906.0,55.4 L906.4,55.3 L906.7,57.4 L907.1,57.3 L907.4,57.2 L907.7,57.1 L908.1,56.9 L908.4,56.8 L908.8,56.7 L909.1,56.4 L909.4,56.3 L909.8,56.1 L910.1,56.0 L910.5,55.9 L910.8,55.8 L911.1,55.0 L911.5,54.9 L911.8,54.8 L912.2,54.8 L912.5,54.7 L912.8,54.6 L913.2,54.5 L913.5,54.5 L913.9,54.4 L914.2,54.4 L914.5,54.4 L914.9,54.3 L915.2,54.3 L915.6,54.2 L915.9,54.2 L916.2,54.2 L916.6,54.2 L916.9,54.1 L917.3,56.2 L917.6,56.2 L917.9,56.2 L918.3,56.2 L918.6,56.3 L919.0,56.3 L919.3,56.3 L919.6,56.4 L919.8,56.4" fill="none" stroke="#2E3087" stroke-width="4.8" stroke-linejoin="round" stroke-linecap="round"/>
<rect x="300.20" y="231.8" width="3.8" height="98.8" fill="#2E3087"/>
<rect x="357.60" y="231.8" width="3.8" height="98.8" fill="#2E3087"/>
<rect x="407.40" y="227.6" width="3.8" height="103.0" fill="#C4202B"/>
<rect x="432.80" y="248.4" width="3.8" height="82.2" fill="#C4202B"/>
<rect x="622.10" y="301" width="3.8" height="29.6" fill="#C4202B"/>
<rect x="647.40" y="227.6" width="3.8" height="103.0" fill="#C4202B"/>
<rect x="783.10" y="311" width="3.8" height="19.6" fill="#2E3087"/>
<rect x="840.60" y="231.8" width="3.8" height="98.8" fill="#2E3087"/>
<text transform="translate(286.8,316.9) rotate(-90)" font-size="20"><tspan font-size="16" dy="-11">87</tspan><tspan dy="11" letter-spacing="0.3">Rb: F=2</tspan></text>
<path d="M281.6,221.1 L281.6,206.7" stroke="#2E3087" stroke-width="1.35"/>
<path d="M279.5,208.0 L281.6,201.7 L283.70000000000005,208.0 Z" fill="#2E3087"/>
<text transform="translate(286.8,198.0) rotate(-90)" font-size="20">F<tspan dx="2.3">′</tspan>=1</text>
<text transform="translate(349.8,317.7) rotate(-90)" font-size="20"><tspan font-size="16" dy="-11">87</tspan><tspan dy="11" letter-spacing="0.3">Rb: F=2</tspan></text>
<path d="M344.3,221.0 L344.3,206.6" stroke="#2E3087" stroke-width="1.35"/>
<path d="M342.2,207.9 L344.3,201.6 L346.40000000000003,207.9 Z" fill="#2E3087"/>
<text transform="translate(349.8,197.5) rotate(-90)" font-size="20">F<tspan dx="2.3">′</tspan>=2</text>
<text transform="translate(435.1,200.9) rotate(-90)" font-size="20"><tspan font-size="16" dy="-11">85</tspan><tspan dy="11" letter-spacing="0.3">Rb: F=3</tspan></text>
<path d="M429.3,106.9 L429.3,93.1" stroke="#2E3087" stroke-width="1.35"/>
<path d="M427.2,94.39999999999999 L429.3,88.1 L431.40000000000003,94.39999999999999 Z" fill="#2E3087"/>
<text transform="translate(435.1,82.39999999999999) rotate(-90)" font-size="20">F<tspan dx="2.3">′</tspan>=2/3</text>
<text transform="translate(660.1,200.2) rotate(-90)" font-size="20"><tspan font-size="16" dy="-11">85</tspan><tspan dy="11" letter-spacing="0.3">Rb: F=2</tspan></text>
<path d="M654.1,106.9 L654.1,93.2" stroke="#2E3087" stroke-width="1.35"/>
<path d="M652.0,94.5 L654.1,88.2 L656.2,94.5 Z" fill="#2E3087"/>
<text transform="translate(660.1,82.0) rotate(-90)" font-size="20">F<tspan dx="2.3">′</tspan>=2/3</text>
<text transform="translate(775.8,316.7) rotate(-90)" font-size="20"><tspan font-size="16" dy="-11">87</tspan><tspan dy="11" letter-spacing="0.3">Rb: F=1</tspan></text>
<path d="M770.0,221.0 L770.0,206.8" stroke="#2E3087" stroke-width="1.35"/>
<path d="M767.9,208.10000000000002 L770.0,201.8 L772.1,208.10000000000002 Z" fill="#2E3087"/>
<text transform="translate(775.8,197.9) rotate(-90)" font-size="20">F<tspan dx="2.3">′</tspan>=1</text>
<text transform="translate(827.9,315.5) rotate(-90)" font-size="20"><tspan font-size="16" dy="-11">87</tspan><tspan dy="11" letter-spacing="0.3">Rb: F=1</tspan></text>
<path d="M822.1,220.9 L822.1,206.8" stroke="#2E3087" stroke-width="1.35"/>
<path d="M820.0,208.10000000000002 L822.1,201.8 L824.2,208.10000000000002 Z" fill="#2E3087"/>
<text transform="translate(827.9,195.79999999999998) rotate(-90)" font-size="20">F<tspan dx="2.3">′</tspan>=2</text>
<path d="M96.45,438 L96.45,716.1 L937.5,716.1" fill="none" stroke="#000" stroke-width="2.1" stroke-linejoin="round"/>
<path d="M937.5,716.1 L937.5,708.1" fill="none" stroke="#000" stroke-width="1.8"/>
<path d="M231.0,716.1 L231.0,708.1" stroke="#000" stroke-width="1.8"/>
<path d="M372.2,716.1 L372.2,708.1" stroke="#000" stroke-width="1.8"/>
<path d="M513.5,716.1 L513.5,708.1" stroke="#000" stroke-width="1.8"/>
<path d="M654.8,716.1 L654.8,708.1" stroke="#000" stroke-width="1.8"/>
<path d="M796.2,716.1 L796.2,708.1" stroke="#000" stroke-width="1.8"/>
<path d="M96.45,439 L105,439" stroke="#000" stroke-width="1.8"/>
<path d="M96.45,506.6 L105,506.6" stroke="#000" stroke-width="1.8"/>
<path d="M96.45,574.2 L105,574.2" stroke="#000" stroke-width="1.8"/>
<path d="M96.45,641.8 L105,641.8" stroke="#000" stroke-width="1.8"/>
<path d="M96.45,709.4 L105,709.4" stroke="#000" stroke-width="1.8"/>
<text x="84.2" y="448.7" text-anchor="end">1</text>
<text x="84.2" y="516.3" text-anchor="end">0.8</text>
<text x="84.2" y="583.9" text-anchor="end">0.6</text>
<text x="84.2" y="651.5" text-anchor="end">0.4</text>
<text x="84.2" y="719.1" text-anchor="end">0.2</text>
<text x="239.7" y="748.6" text-anchor="end">−2</text>
<text x="373.1" y="748.6" text-anchor="middle">0</text>
<text x="514.4" y="748.6" text-anchor="middle">2</text>
<text x="655.7" y="748.6" text-anchor="middle">4</text>
<text x="797.1" y="748.6" text-anchor="middle">6</text>
<text x="938.4" y="748.6" text-anchor="middle">8</text>
<text x="519.1" y="790.0" text-anchor="middle" font-size="27.7">Frequency detuning (GHz)</text>
<text transform="translate(23.9,577.5) rotate(-90)" text-anchor="middle">Transmission</text>
<text x="-0.5" y="434" font-weight="bold" font-size="41">b</text>
<path d="M96.7,444.4 L97.7,443.9 L98.7,443.4 L99.7,443.0 L100.7,442.5 L101.7,442.1 L102.7,441.7 L103.7,441.4 L104.7,441.0 L105.7,440.7 L106.7,440.4 L107.7,440.2 L108.7,439.9 L109.7,439.7 L110.7,439.5 L111.7,439.3 L112.7,439.1 L113.7,439.0 L114.7,438.8 L115.7,438.7 L116.7,438.6 L117.7,438.6 L118.7,438.5 L119.7,438.5 L120.7,438.5 L121.7,438.5 L122.7,438.5 L123.7,438.5 L124.7,438.5 L125.7,438.6 L126.7,438.7 L127.7,438.8 L128.7,438.9 L129.7,439.0 L130.7,439.1 L131.7,439.2 L132.7,439.4 L133.7,439.6 L134.7,439.7 L135.7,439.9 L136.7,440.1 L137.7,440.3 L138.7,440.5 L139.7,440.8 L140.7,441.0 L141.7,441.2 L142.7,441.5 L143.7,441.8 L144.7,442.0 L145.7,442.3 L146.7,442.6 L147.7,442.9 L148.7,443.2 L149.7,443.5 L150.7,443.8 L151.7,444.1 L152.7,444.4 L153.7,444.7 L154.7,445.0 L155.7,445.4 L156.7,445.7 L157.7,446.0 L158.7,446.4 L159.7,446.7 L160.7,447.0 L161.7,447.4 L162.7,447.7 L163.7,448.1 L164.7,448.4 L165.7,448.7 L166.7,449.1 L167.7,449.4 L168.7,449.8 L169.7,450.1 L170.7,450.4 L171.7,450.8 L172.7,451.1 L173.7,451.4 L174.7,451.7 L175.7,452.1 L176.7,452.4 L177.7,452.7 L178.7,453.0 L179.7,453.4 L180.7,453.7 L181.7,454.0 L182.7,454.4 L183.7,454.7 L184.7,455.0 L185.7,455.4 L186.7,455.7 L187.7,456.1 L188.7,456.4 L189.7,456.8 L190.7,457.1 L191.7,457.5 L192.7,457.9 L193.7,458.2 L194.7,458.6 L195.7,459.0 L196.7,459.4 L197.7,459.8 L198.7,460.3 L199.7,460.7 L200.7,461.1 L201.7,461.6 L202.7,462.0 L203.7,462.5 L204.7,463.0 L205.7,463.4 L206.7,463.9 L207.7,464.5 L208.7,465.0 L209.7,465.5 L210.7,466.1 L211.7,466.6 L212.7,467.2 L213.7,467.8 L214.7,468.4 L215.7,469.0 L216.7,469.6 L217.7,470.3 L218.7,471.0 L219.7,471.6 L220.7,472.3 L221.7,473.1 L222.7,473.8 L223.7,474.5 L224.7,475.3 L225.7,476.1 L226.7,476.9 L227.7,477.7 L228.7,478.6 L229.7,479.5 L230.7,480.4 L231.7,481.3 L232.7,482.2 L233.7,483.1 L234.7,484.1 L235.7,485.1 L236.7,486.1 L237.7,487.2 L238.7,488.3 L239.7,489.4 L240.7,490.5 L241.7,491.6 L242.7,492.8 L243.7,494.0 L244.7,495.2 L245.7,496.5 L246.7,497.7 L247.7,499.0 L248.7,500.4 L249.7,501.7 L250.7,503.1 L251.7,504.5 L252.7,505.9 L253.7,507.4 L254.7,508.9 L255.7,510.4 L256.7,511.9 L257.7,513.4 L258.7,514.9 L259.7,516.5 L260.7,518.1 L261.7,519.6 L262.7,521.2 L263.7,522.8 L264.7,524.5 L265.7,526.1 L266.7,527.7 L267.7,529.3 L268.7,531.0 L269.7,532.6 L270.7,534.3 L271.7,535.9 L272.7,537.6 L273.7,539.2 L274.7,540.9 L275.7,542.5 L276.7,544.2 L277.7,545.8 L278.7,547.4 L279.7,549.0 L280.7,550.7 L281.7,552.3 L282.7,553.9 L283.7,555.4 L284.7,557.0 L285.7,558.6 L286.7,560.1 L287.7,561.6 L288.7,563.1 L289.7,564.6 L290.7,566.1 L291.7,567.5 L292.7,569.0 L293.7,570.4 L294.7,571.7 L295.7,573.1 L296.7,574.4 L297.7,575.7 L298.7,577.0 L299.7,578.2 L300.7,579.4 L301.7,580.6 L302.7,581.8 L303.7,582.9 L304.7,584.0 L305.7,585.1 L306.7,586.2 L307.7,587.2 L308.7,588.3 L309.7,589.3 L310.7,590.3 L311.7,591.2 L312.7,592.2 L313.7,593.1 L314.7,594.1 L315.7,595.0 L316.7,595.9 L317.7,596.8 L318.7,597.7 L319.7,598.6 L320.7,599.5 L321.7,600.4 L322.7,601.3 L323.7,602.2 L324.7,603.1 L325.7,604.0 L326.7,604.9 L327.7,605.8 L328.7,606.7 L329.7,607.6 L330.7,608.5 L331.7,609.4 L332.7,610.4 L333.7,611.3 L334.7,612.3 L335.7,613.2 L336.7,614.2 L337.7,615.2 L338.7,616.3 L339.7,617.3 L340.7,618.4 L341.7,619.5 L342.7,620.6 L343.7,621.7 L344.7,622.9 L345.7,624.0 L346.7,625.2 L347.7,626.5 L348.7,627.7 L349.7,629.0 L350.7,630.3 L351.7,631.6 L352.7,633.0 L353.7,634.3 L354.7,635.7 L355.7,637.1 L356.7,638.5 L357.7,639.9 L358.7,641.3 L359.7,642.8 L360.7,644.2 L361.7,645.7 L362.7,647.1 L363.7,648.6 L364.7,650.1 L365.7,651.5 L366.7,653.0 L367.7,654.5 L368.7,656.0 L369.7,657.4 L370.7,658.9 L371.7,660.4 L372.7,661.8 L373.7,663.3 L374.7,664.7 L375.7,666.2 L376.7,667.6 L377.7,669.0 L378.7,670.4 L379.7,671.8 L380.7,673.2 L381.7,674.6 L382.7,675.9 L383.7,677.3 L384.7,678.6 L385.7,679.9 L386.7,681.1 L387.7,682.4 L388.7,683.6 L389.7,684.8 L390.7,686.0 L391.7,687.1 L392.7,688.2 L393.7,689.3 L394.7,690.4 L395.7,691.4 L396.7,692.4 L397.7,693.3 L398.7,694.3 L399.7,695.1 L400.7,696.0 L401.7,696.8 L402.7,697.5 L403.7,698.3 L404.7,698.9 L405.7,699.6 L406.7,700.2 L407.7,700.7 L408.7,701.2 L409.7,701.6 L410.7,702.0 L411.7,702.4 L412.7,702.6 L413.7,702.9 L414.7,703.0 L415.7,703.2 L416.7,703.2 L417.7,703.2 L418.7,703.2 L419.7,703.0 L420.7,702.8 L421.7,702.6 L422.7,702.3 L423.7,701.9 L424.7,701.4 L425.7,700.9 L426.7,700.3 L427.7,699.7 L428.7,698.9 L429.7,698.1 L430.7,697.2 L431.7,696.3 L432.7,695.2 L433.7,694.1 L434.7,692.9 L435.7,691.6 L436.7,690.2 L437.7,688.8 L438.7,687.3 L439.7,685.7 L440.7,684.0 L441.7,682.2 L442.7,680.4 L443.7,678.5 L444.7,676.6 L445.7,674.6 L446.7,672.5 L447.7,670.3 L448.7,668.1 L449.7,665.9 L450.7,663.6 L451.7,661.2 L452.7,658.8 L453.7,656.3 L454.7,653.8 L455.7,651.2 L456.7,648.6 L457.7,646.0 L458.7,643.3 L459.7,640.6 L460.7,637.8 L461.7,635.0 L462.7,632.2 L463.7,629.4 L464.7,626.5 L465.7,623.6 L466.7,620.6 L467.7,617.7 L468.7,614.7 L469.7,611.7 L470.7,608.7 L471.7,605.7 L472.7,602.7 L473.7,599.7 L474.7,596.6 L475.7,593.6 L476.7,590.5 L477.7,587.4 L478.7,584.3 L479.7,581.2 L480.7,578.1 L481.7,574.9 L482.7,571.7 L483.7,568.5 L484.7,565.2 L485.7,562.0 L486.7,558.7 L487.7,555.5 L488.7,552.4 L489.7,549.3 L490.7,546.3 L491.7,543.5 L492.7,540.8 L493.7,538.2 L494.7,535.7 L495.7,533.4 L496.7,531.2 L497.7,529.1 L498.7,527.1 L499.7,525.2 L500.7,523.4 L501.7,521.7 L502.7,520.0 L503.7,518.5 L504.7,517.1 L505.7,515.7 L506.7,514.4 L507.7,513.2 L508.7,512.0 L509.7,510.9 L510.7,509.9 L511.7,508.9 L512.7,508.0 L513.7,507.1 L514.7,506.2 L515.7,505.4 L516.7,504.7 L517.7,504.0 L518.7,503.3 L519.7,502.7 L520.7,502.1 L521.7,501.6 L522.7,501.1 L523.7,500.7 L524.7,500.3 L525.7,500.0 L526.7,499.7 L527.7,499.4 L528.7,499.2 L529.7,499.0 L530.7,498.9 L531.7,498.8 L532.7,498.8 L533.7,498.8 L534.7,498.8 L535.7,498.9 L536.7,499.1 L537.7,499.2 L538.7,499.4 L539.7,499.7 L540.7,500.0 L541.7,500.3 L542.7,500.7 L543.7,501.1 L544.7,501.6 L545.7,502.1 L546.7,502.6 L547.7,503.2 L548.7,503.8 L549.7,504.4 L550.7,505.1 L551.7,505.8 L552.7,506.6 L553.7,507.4 L554.7,508.2 L555.7,509.1 L556.7,510.0 L557.7,511.0 L558.7,512.0 L559.7,513.0 L560.7,514.0 L561.7,515.1 L562.7,516.2 L563.7,517.4 L564.7,518.6 L565.7,519.8 L566.7,521.1 L567.7,522.4 L568.7,523.7 L569.7,525.1 L570.7,526.5 L571.7,527.9 L572.7,529.4 L573.7,530.9 L574.7,532.4 L575.7,534.0 L576.7,535.6 L577.7,537.3 L578.7,538.9 L579.7,540.7 L580.7,542.5 L581.7,544.3 L582.7,546.1 L583.7,548.0 L584.7,550.0 L585.7,552.0 L586.7,554.0 L587.7,556.1 L588.7,558.2 L589.7,560.4 L590.7,562.6 L591.7,564.9 L592.7,567.2 L593.7,569.6 L594.7,572.0 L595.7,574.5 L596.7,577.0 L597.7,579.5 L598.7,582.0 L599.7,584.6 L600.7,587.2 L601.7,589.8 L602.7,592.4 L603.7,595.0 L604.7,597.6 L605.7,600.2 L606.7,602.8 L607.7,605.3 L608.7,607.8 L609.7,610.3 L610.7,612.8 L611.7,615.2 L612.7,617.6 L613.7,620.0 L614.7,622.2 L615.7,624.5 L616.7,626.6 L617.7,628.7 L618.7,630.7 L619.7,632.6 L620.7,634.5 L621.7,636.3 L622.7,637.9 L623.7,639.6 L624.7,641.1 L625.7,642.5 L626.7,643.9 L627.7,645.2 L628.7,646.4 L629.7,647.5 L630.7,648.6 L631.7,649.6 L632.7,650.5 L633.7,651.3 L634.7,652.0 L635.7,652.7 L636.7,653.2 L637.7,653.7 L638.7,654.1 L639.7,654.5 L640.7,654.7 L641.7,654.9 L642.7,655.0 L643.7,655.0 L644.7,655.0 L645.7,654.8 L646.7,654.6 L647.7,654.3 L648.7,654.0 L649.7,653.5 L650.7,653.0 L651.7,652.4 L652.7,651.7 L653.7,650.9 L654.7,650.1 L655.7,649.2 L656.7,648.2 L657.7,647.1 L658.7,645.9 L659.7,644.7 L660.7,643.4 L661.7,642.0 L662.7,640.6 L663.7,639.0 L664.7,637.4 L665.7,635.7 L666.7,634.0 L667.7,632.1 L668.7,630.2 L669.7,628.2 L670.7,626.1 L671.7,624.0 L672.7,621.7 L673.7,619.4 L674.7,617.1 L675.7,614.6 L676.7,612.1 L677.7,609.5 L678.7,606.8 L679.7,604.1 L680.7,601.3 L681.7,598.5 L682.7,595.5 L683.7,592.5 L684.7,589.5 L685.7,586.4 L686.7,583.2 L687.7,579.9 L688.7,576.6 L689.7,573.3 L690.7,570.0 L691.7,566.6 L692.7,563.3 L693.7,560.1 L694.7,556.9 L695.7,553.9 L696.7,550.9 L697.7,547.9 L698.7,545.1 L699.7,542.3 L700.7,539.6 L701.7,537.0 L702.7,534.5 L703.7,532.0 L704.7,529.6 L705.7,527.3 L706.7,525.0 L707.7,522.9 L708.7,520.7 L709.7,518.7 L710.7,516.7 L711.7,514.8 L712.7,513.0 L713.7,511.2 L714.7,509.5 L715.7,507.8 L716.7,506.2 L717.7,504.7 L718.7,503.2 L719.7,501.8 L720.7,500.5 L721.7,499.2 L722.7,498.0 L723.7,496.8 L724.7,495.7 L725.7,494.6 L726.7,493.6 L727.7,492.6 L728.7,491.7 L729.7,490.9 L730.7,490.1 L731.7,489.3 L732.7,488.6 L733.7,488.0 L734.7,487.4 L735.7,486.8 L736.7,486.3 L737.7,485.8 L738.7,485.4 L739.7,485.0 L740.7,484.7 L741.7,484.4 L742.7,484.1 L743.7,483.9 L744.7,483.7 L745.7,483.5 L746.7,483.4 L747.7,483.4 L748.7,483.3 L749.7,483.3 L750.7,483.3 L751.7,483.4 L752.7,483.5 L753.7,483.6 L754.7,483.8 L755.7,484.0 L756.7,484.2 L757.7,484.4 L758.7,484.7 L759.7,485.0 L760.7,485.3 L761.7,485.6 L762.7,486.0 L763.7,486.4 L764.7,486.8 L765.7,487.2 L766.7,487.7 L767.7,488.1 L768.7,488.6 L769.7,489.1 L770.7,489.6 L771.7,490.2 L772.7,490.7 L773.7,491.3 L774.7,491.9 L775.7,492.4 L776.7,493.0 L777.7,493.7 L778.7,494.3 L779.7,494.9 L780.7,495.5 L781.7,496.2 L782.7,496.8 L783.7,497.5 L784.7,498.1 L785.7,498.8 L786.7,499.5 L787.7,500.2 L788.7,500.9 L789.7,501.5 L790.7,502.2 L791.7,502.9 L792.7,503.7 L793.7,504.4 L794.7,505.1 L795.7,505.8 L796.7,506.5 L797.7,507.3 L798.7,508.0 L799.7,508.7 L800.7,509.5 L801.7,510.2 L802.7,511.0 L803.7,511.7 L804.7,512.5 L805.7,513.2 L806.7,514.0 L807.7,514.7 L808.7,515.5 L809.7,516.2 L810.7,517.0 L811.7,517.8 L812.7,518.5 L813.7,519.3 L814.7,520.1 L815.7,520.8 L816.7,521.6 L817.7,522.3 L818.7,523.1 L819.7,523.8 L820.7,524.6 L821.7,525.3 L822.7,526.0 L823.7,526.6 L824.7,527.3 L825.7,527.9 L826.7,528.5 L827.7,529.0 L828.7,529.6 L829.7,530.0 L830.7,530.5 L831.7,530.8 L832.7,531.2 L833.7,531.5 L834.7,531.7 L835.7,531.9 L836.7,532.0 L837.7,532.0 L838.7,532.0 L839.7,531.9 L840.7,531.8 L841.7,531.6 L842.7,531.3 L843.7,530.9 L844.7,530.5 L845.7,530.1 L846.7,529.6 L847.7,529.0 L848.7,528.3 L849.7,527.7 L850.7,526.9 L851.7,526.1 L852.7,525.3 L853.7,524.4 L854.7,523.5 L855.7,522.5 L856.7,521.4 L857.7,520.3 L858.7,519.2 L859.7,518.1 L860.7,516.8 L861.7,515.6 L862.7,514.3 L863.7,513.0 L864.7,511.6 L865.7,510.2 L866.7,508.8 L867.7,507.3 L868.7,505.8 L869.7,504.3 L870.7,502.8 L871.7,501.2 L872.7,499.6 L873.7,498.1 L874.7,496.5 L875.7,494.9 L876.7,493.4 L877.7,491.8 L878.7,490.3 L879.7,488.8 L880.7,487.3 L881.7,485.8 L882.7,484.4 L883.7,483.0 L884.7,481.6 L885.7,480.2 L886.7,478.9 L887.7,477.6 L888.7,476.4 L889.7,475.1 L890.7,473.9 L891.7,472.7 L892.7,471.6 L893.7,470.5 L894.7,469.4 L895.7,468.3 L896.7,467.3 L897.7,466.2 L898.7,465.3 L899.7,464.3 L900.7,463.4 L901.7,462.5 L902.7,461.6 L903.7,460.7 L904.7,459.9 L905.7,459.1 L906.7,458.3 L907.7,457.5 L908.7,456.8 L909.7,456.1 L910.7,455.4 L911.7,454.7 L912.7,454.1 L913.7,453.5 L914.7,452.9 L915.7,452.3 L916.7,451.7 L917.7,451.2 L918.7,450.7 L919.7,450.2 L920.7,449.8 L921.7,449.3 L922.7,448.9 L923.7,448.5 L924.7,448.1 L925.7,447.8 L926.7,447.4 L927.7,447.1 L928.7,446.8 L929.7,446.5 L930.7,446.3 L931.7,446.0 L932.7,445.8 L933.7,445.6 L934.7,445.4 L935.7,445.3 L936.7,445.1 L937.5,445.0" fill="none" stroke="#2E3087" stroke-width="4.3" stroke-linejoin="round"/>
<path d="M96.7,444.4 L97.7,444.5 L98.7,444.6 L99.7,444.6 L100.7,444.7 L101.7,444.8 L102.7,444.8 L103.7,444.9 L104.7,445.0 L105.7,445.0 L106.7,445.1 L107.7,445.2 L108.7,445.2 L109.7,445.3 L110.7,445.3 L111.7,445.4 L112.7,445.5 L113.7,445.5 L114.7,445.6 L115.7,445.6 L116.7,445.7 L117.7,445.7 L118.7,445.8 L119.7,445.8 L120.7,445.9 L121.7,445.9 L122.7,446.0 L123.7,446.0 L124.7,446.1 L125.7,446.1 L126.7,446.2 L127.7,446.2 L128.7,446.2 L129.7,446.3 L130.7,446.3 L131.7,446.4 L132.7,446.4 L133.7,446.5 L134.7,446.5 L135.7,446.6 L136.7,446.6 L137.7,446.7 L138.7,446.7 L139.7,446.8 L140.7,446.8 L141.7,446.9 L142.7,447.0 L143.7,447.0 L144.7,447.1 L145.7,447.1 L146.7,447.2 L147.7,447.3 L148.7,447.3 L149.7,447.4 L150.7,447.4 L151.7,447.5 L152.7,447.6 L153.7,447.7 L154.7,447.7 L155.7,447.8 L156.7,447.9 L157.7,448.0 L158.7,448.1 L159.7,448.1 L160.7,448.2 L161.7,448.3 L162.7,448.4 L163.7,448.5 L164.7,448.6 L165.7,448.7 L166.7,448.8 L167.7,448.9 L168.7,449.0 L169.7,449.1 L170.7,449.3 L171.7,449.4 L172.7,449.5 L173.7,449.6 L174.7,449.8 L175.7,449.9 L176.7,450.0 L177.7,450.2 L178.7,450.3 L179.7,450.5 L180.7,450.6 L181.7,450.8 L182.7,450.9 L183.7,451.1 L184.7,451.3 L185.7,451.5 L186.7,451.6 L187.7,451.8 L188.7,452.0 L189.7,452.2 L190.7,452.4 L191.7,452.6 L192.7,452.8 L193.7,453.0 L194.7,453.2 L195.7,453.4 L196.7,453.7 L197.7,453.9 L198.7,454.1 L199.7,454.4 L200.7,454.6 L201.7,454.9 L202.7,455.1 L203.7,455.4 L204.7,455.7 L205.7,456.0 L206.7,456.3 L207.7,456.6 L208.7,456.9 L209.7,457.3 L210.7,457.6 L211.7,458.0 L212.7,458.4 L213.7,458.7 L214.7,459.2 L215.7,459.6 L216.7,460.0 L217.7,460.5 L218.7,460.9 L219.7,461.4 L220.7,461.9 L221.7,462.5 L222.7,463.0 L223.7,463.6 L224.7,464.2 L225.7,464.8 L226.7,465.4 L227.7,466.1 L228.7,466.8 L229.7,467.5 L230.7,468.2 L231.7,469.0 L232.7,469.7 L233.7,470.6 L234.7,471.4 L235.7,472.2 L236.7,473.1 L237.7,474.1 L238.7,475.0 L239.7,476.0 L240.7,477.0 L241.7,478.0 L242.7,479.1 L243.7,480.2 L244.7,481.3 L245.7,482.5 L246.7,483.7 L247.7,485.0 L248.7,486.2 L249.7,487.6 L250.7,488.9 L251.7,490.3 L252.7,491.7 L253.7,493.2 L254.7,494.6 L255.7,496.2 L256.7,497.7 L257.7,499.3 L258.7,500.8 L259.7,502.5 L260.7,504.1 L261.7,505.7 L262.7,507.4 L263.7,509.1 L264.7,510.8 L265.7,512.5 L266.7,514.2 L267.7,516.0 L268.7,517.7 L269.7,519.4 L270.7,521.2 L271.7,522.9 L272.7,524.7 L273.7,526.4 L274.7,528.2 L275.7,529.9 L276.7,531.7 L277.7,533.4 L278.7,535.1 L279.7,536.8 L280.7,538.5 L281.7,540.2 L282.7,541.9 L283.7,543.5 L284.7,545.2 L285.7,546.8 L286.7,548.4 L287.7,549.9 L288.7,551.5 L289.7,553.0 L290.7,554.5 L291.7,555.9 L292.7,557.3 L293.7,558.7 L294.7,560.1 L295.7,561.4 L296.7,562.7 L297.7,563.9 L298.7,565.1 L299.7,566.2 L300.7,567.3 L301.7,568.4 L302.7,569.4 L303.7,570.3 L304.7,571.3 L305.7,572.1 L306.7,573.0 L307.7,573.8 L308.7,574.6 L309.7,575.3 L310.7,576.0 L311.7,576.7 L312.7,577.4 L313.7,578.1 L314.7,578.7 L315.7,579.4 L316.7,580.0 L317.7,580.6 L318.7,581.3 L319.7,581.9 L320.7,582.5 L321.7,583.2 L322.7,583.9 L323.7,584.5 L324.7,585.2 L325.7,585.9 L326.7,586.7 L327.7,587.4 L328.7,588.2 L329.7,589.0 L330.7,589.9 L331.7,590.8 L332.7,591.7 L333.7,592.6 L334.7,593.6 L335.7,594.6 L336.7,595.6 L337.7,596.7 L338.7,597.8 L339.7,598.9 L340.7,600.0 L341.7,601.2 L342.7,602.4 L343.7,603.7 L344.7,604.9 L345.7,606.2 L346.7,607.5 L347.7,608.9 L348.7,610.3 L349.7,611.7 L350.7,613.1 L351.7,614.6 L352.7,616.0 L353.7,617.6 L354.7,619.1 L355.7,620.7 L356.7,622.3 L357.7,623.9 L358.7,625.5 L359.7,627.2 L360.7,628.9 L361.7,630.6 L362.7,632.4 L363.7,634.1 L364.7,635.9 L365.7,637.7 L366.7,639.5 L367.7,641.3 L368.7,643.2 L369.7,645.0 L370.7,646.8 L371.7,648.7 L372.7,650.5 L373.7,652.4 L374.7,654.2 L375.7,656.0 L376.7,657.9 L377.7,659.7 L378.7,661.5 L379.7,663.3 L380.7,665.1 L381.7,666.9 L382.7,668.6 L383.7,670.3 L384.7,672.1 L385.7,673.7 L386.7,675.4 L387.7,677.0 L388.7,678.6 L389.7,680.2 L390.7,681.8 L391.7,683.3 L392.7,684.7 L393.7,686.2 L394.7,687.5 L395.7,688.9 L396.7,690.2 L397.7,691.4 L398.7,692.7 L399.7,693.8 L400.7,694.9 L401.7,696.0 L402.7,697.0 L403.7,697.9 L404.7,698.8 L405.7,699.6 L406.7,700.3 L407.7,701.0 L408.7,701.6 L409.7,702.2 L410.7,702.6 L411.7,703.1 L412.7,703.4 L413.7,703.6 L414.7,703.8 L415.7,704.0 L416.7,704.0 L417.7,704.0 L418.7,703.9 L419.7,703.7 L420.7,703.4 L421.7,703.1 L422.7,702.7 L423.7,702.2 L424.7,701.6 L425.7,701.0 L426.7,700.3 L427.7,699.5 L428.7,698.6 L429.7,697.7 L430.7,696.6 L431.7,695.5 L432.7,694.3 L433.7,693.0 L434.7,691.7 L435.7,690.2 L436.7,688.7 L437.7,687.1 L438.7,685.4 L439.7,683.6 L440.7,681.8 L441.7,679.9 L442.7,677.8 L443.7,675.8 L444.7,673.6 L445.7,671.4 L446.7,669.0 L447.7,666.7 L448.7,664.2 L449.7,661.7 L450.7,659.0 L451.7,656.4 L452.7,653.6 L453.7,650.8 L454.7,647.9 L455.7,644.9 L456.7,641.9 L457.7,638.8 L458.7,635.6 L459.7,632.4 L460.7,629.1 L461.7,625.8 L462.7,622.5 L463.7,619.1 L464.7,615.7 L465.7,612.3 L466.7,608.9 L467.7,605.5 L468.7,602.0 L469.7,598.6 L470.7,595.2 L471.7,591.9 L472.7,588.5 L473.7,585.2 L474.7,581.9 L475.7,578.6 L476.7,575.4 L477.7,572.2 L478.7,569.0 L479.7,565.9 L480.7,562.8 L481.7,559.8 L482.7,556.8 L483.7,553.9 L484.7,551.0 L485.7,548.1 L486.7,545.4 L487.7,542.6 L488.7,540.0 L489.7,537.4 L490.7,534.8 L491.7,532.4 L492.7,530.0 L493.7,527.7 L494.7,525.4 L495.7,523.2 L496.7,521.1 L497.7,519.1 L498.7,517.2 L499.7,515.3 L500.7,513.6 L501.7,511.9 L502.7,510.3 L503.7,508.7 L504.7,507.2 L505.7,505.8 L506.7,504.5 L507.7,503.2 L508.7,502.0 L509.7,500.8 L510.7,499.7 L511.7,498.7 L512.7,497.7 L513.7,496.7 L514.7,495.8 L515.7,495.0 L516.7,494.2 L517.7,493.4 L518.7,492.7 L519.7,492.1 L520.7,491.4 L521.7,490.8 L522.7,490.3 L523.7,489.8 L524.7,489.3 L525.7,488.9 L526.7,488.5 L527.7,488.1 L528.7,487.8 L529.7,487.6 L530.7,487.3 L531.7,487.1 L532.7,487.0 L533.7,486.8 L534.7,486.7 L535.7,486.7 L536.7,486.7 L537.7,486.7 L538.7,486.7 L539.7,486.8 L540.7,486.9 L541.7,487.1 L542.7,487.3 L543.7,487.5 L544.7,487.7 L545.7,488.0 L546.7,488.3 L547.7,488.7 L548.7,489.0 L549.7,489.5 L550.7,489.9 L551.7,490.4 L552.7,490.9 L553.7,491.4 L554.7,492.0 L555.7,492.7 L556.7,493.4 L557.7,494.1 L558.7,494.9 L559.7,495.7 L560.7,496.6 L561.7,497.5 L562.7,498.5 L563.7,499.6 L564.7,500.7 L565.7,501.8 L566.7,503.1 L567.7,504.3 L568.7,505.7 L569.7,507.1 L570.7,508.6 L571.7,510.1 L572.7,511.8 L573.7,513.5 L574.7,515.2 L575.7,517.1 L576.7,519.0 L577.7,521.0 L578.7,523.1 L579.7,525.3 L580.7,527.5 L581.7,529.8 L582.7,532.2 L583.7,534.6 L584.7,537.1 L585.7,539.7 L586.7,542.3 L587.7,544.9 L588.7,547.6 L589.7,550.3 L590.7,553.1 L591.7,555.9 L592.7,558.7 L593.7,561.6 L594.7,564.4 L595.7,567.3 L596.7,570.2 L597.7,573.1 L598.7,576.0 L599.7,579.0 L600.7,581.9 L601.7,584.8 L602.7,587.7 L603.7,590.6 L604.7,593.4 L605.7,596.3 L606.7,599.1 L607.7,601.9 L608.7,604.6 L609.7,607.4 L610.7,610.0 L611.7,612.7 L612.7,615.3 L613.7,617.8 L614.7,620.3 L615.7,622.7 L616.7,625.1 L617.7,627.4 L618.7,629.7 L619.7,631.9 L620.7,634.0 L621.7,636.1 L622.7,638.1 L623.7,640.0 L624.7,641.9 L625.7,643.7 L626.7,645.4 L627.7,647.0 L628.7,648.6 L629.7,650.1 L630.7,651.5 L631.7,652.8 L632.7,654.0 L633.7,655.2 L634.7,656.2 L635.7,657.2 L636.7,658.1 L637.7,658.9 L638.7,659.6 L639.7,660.2 L640.7,660.7 L641.7,661.1 L642.7,661.4 L643.7,661.5 L644.7,661.6 L645.7,661.6 L646.7,661.5 L647.7,661.2 L648.7,660.9 L649.7,660.4 L650.7,659.8 L651.7,659.2 L652.7,658.4 L653.7,657.5 L654.7,656.5 L655.7,655.4 L656.7,654.2 L657.7,652.9 L658.7,651.5 L659.7,650.0 L660.7,648.4 L661.7,646.7 L662.7,645.0 L663.7,643.1 L664.7,641.2 L665.7,639.2 L666.7,637.1 L667.7,634.9 L668.7,632.7 L669.7,630.4 L670.7,628.0 L671.7,625.5 L672.7,623.0 L673.7,620.4 L674.7,617.7 L675.7,615.0 L676.7,612.2 L677.7,609.3 L678.7,606.4 L679.7,603.5 L680.7,600.4 L681.7,597.4 L682.7,594.2 L683.7,591.1 L684.7,587.8 L685.7,584.6 L686.7,581.3 L687.7,577.9 L688.7,574.6 L689.7,571.3 L690.7,567.9 L691.7,564.7 L692.7,561.4 L693.7,558.3 L694.7,555.2 L695.7,552.2 L696.7,549.2 L697.7,546.4 L698.7,543.6 L699.7,540.9 L700.7,538.2 L701.7,535.6 L702.7,533.1 L703.7,530.7 L704.7,528.3 L705.7,526.1 L706.7,523.8 L707.7,521.7 L708.7,519.6 L709.7,517.6 L710.7,515.6 L711.7,513.7 L712.7,511.9 L713.7,510.1 L714.7,508.4 L715.7,506.7 L716.7,505.1 L717.7,503.6 L718.7,502.1 L719.7,500.7 L720.7,499.4 L721.7,498.1 L722.7,496.8 L723.7,495.6 L724.7,494.5 L725.7,493.4 L726.7,492.4 L727.7,491.4 L728.7,490.4 L729.7,489.6 L730.7,488.7 L731.7,487.9 L732.7,487.2 L733.7,486.5 L734.7,485.9 L735.7,485.2 L736.7,484.7 L737.7,484.2 L738.7,483.7 L739.7,483.3 L740.7,482.9 L741.7,482.5 L742.7,482.2 L743.7,481.9 L744.7,481.7 L745.7,481.5 L746.7,481.3 L747.7,481.2 L748.7,481.1 L749.7,481.0 L750.7,481.0 L751.7,481.0 L752.7,481.0 L753.7,481.1 L754.7,481.2 L755.7,481.3 L756.7,481.5 L757.7,481.6 L758.7,481.9 L759.7,482.1 L760.7,482.4 L761.7,482.7 L762.7,483.0 L763.7,483.4 L764.7,483.8 L765.7,484.2 L766.7,484.6 L767.7,485.1 L768.7,485.6 L769.7,486.1 L770.7,486.7 L771.7,487.2 L772.7,487.8 L773.7,488.5 L774.7,489.1 L775.7,489.7 L776.7,490.4 L777.7,491.1 L778.7,491.9 L779.7,492.6 L780.7,493.4 L781.7,494.2 L782.7,495.0 L783.7,495.8 L784.7,496.6 L785.7,497.5 L786.7,498.4 L787.7,499.3 L788.7,500.2 L789.7,501.1 L790.7,502.1 L791.7,503.0 L792.7,504.0 L793.7,505.0 L794.7,506.0 L795.7,507.0 L796.7,508.0 L797.7,509.0 L798.7,510.0 L799.7,511.1 L800.7,512.1 L801.7,513.1 L802.7,514.2 L803.7,515.2 L804.7,516.2 L805.7,517.3 L806.7,518.3 L807.7,519.3 L808.7,520.3 L809.7,521.3 L810.7,522.3 L811.7,523.3 L812.7,524.3 L813.7,525.3 L814.7,526.2 L815.7,527.1 L816.7,528.0 L817.7,528.9 L818.7,529.8 L819.7,530.7 L820.7,531.5 L821.7,532.3 L822.7,533.1 L823.7,533.8 L824.7,534.6 L825.7,535.3 L826.7,535.9 L827.7,536.6 L828.7,537.2 L829.7,537.7 L830.7,538.3 L831.7,538.7 L832.7,539.2 L833.7,539.6 L834.7,539.9 L835.7,540.2 L836.7,540.5 L837.7,540.7 L838.7,540.8 L839.7,540.9 L840.7,540.9 L841.7,540.9 L842.7,540.8 L843.7,540.6 L844.7,540.4 L845.7,540.1 L846.7,539.8 L847.7,539.3 L848.7,538.8 L849.7,538.2 L850.7,537.6 L851.7,536.9 L852.7,536.0 L853.7,535.1 L854.7,534.2 L855.7,533.1 L856.7,532.0 L857.7,530.8 L858.7,529.5 L859.7,528.2 L860.7,526.9 L861.7,525.5 L862.7,524.0 L863.7,522.6 L864.7,521.1 L865.7,519.5 L866.7,518.0 L867.7,516.4 L868.7,514.8 L869.7,513.2 L870.7,511.6 L871.7,510.1 L872.7,508.5 L873.7,506.9 L874.7,505.4 L875.7,503.8 L876.7,502.3 L877.7,500.8 L878.7,499.3 L879.7,497.9 L880.7,496.4 L881.7,495.0 L882.7,493.6 L883.7,492.1 L884.7,490.8 L885.7,489.4 L886.7,488.0 L887.7,486.7 L888.7,485.4 L889.7,484.1 L890.7,482.8 L891.7,481.6 L892.7,480.3 L893.7,479.1 L894.7,477.9 L895.7,476.8 L896.7,475.6 L897.7,474.5 L898.7,473.4 L899.7,472.3 L900.7,471.2 L901.7,470.2 L902.7,469.2 L903.7,468.2 L904.7,467.2 L905.7,466.3 L906.7,465.4 L907.7,464.5 L908.7,463.6 L909.7,462.8 L910.7,461.9 L911.7,461.2 L912.7,460.4 L913.7,459.7 L914.7,458.9 L915.7,458.3 L916.7,457.6 L917.7,457.0 L918.7,456.4 L919.7,455.8 L920.7,455.3 L921.7,454.8 L922.7,454.3 L923.7,453.8 L924.7,453.4 L925.7,453.0 L926.7,452.7 L927.7,452.3 L928.7,452.0 L929.7,451.8 L930.7,451.5 L931.7,451.3 L932.7,451.2 L933.7,451.0 L934.7,450.9 L935.7,450.9 L936.7,450.8 L937.5,450.8" fill="none" stroke="#55765B" stroke-width="3.8" stroke-dasharray="8.2 7.95" stroke-dashoffset="0.57"/>
</svg>
</body></html>
